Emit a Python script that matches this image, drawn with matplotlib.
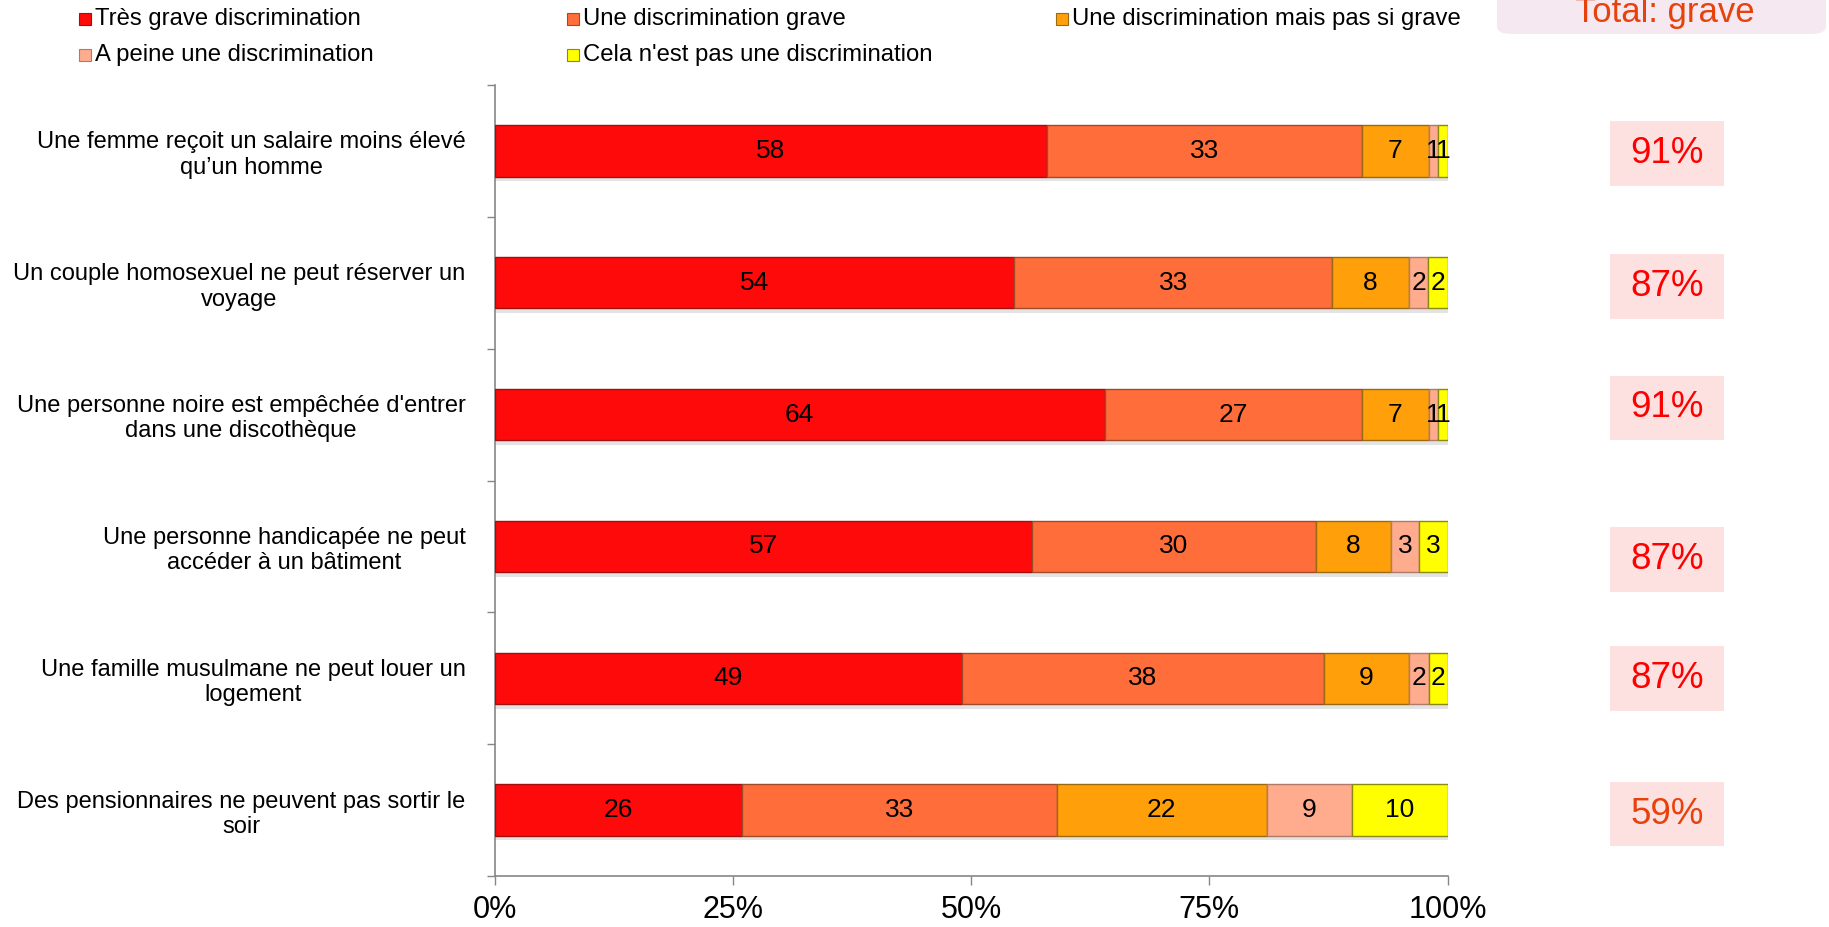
import matplotlib
matplotlib.use("Agg")
import matplotlib.pyplot as plt
import matplotlib.transforms as mtransforms
from matplotlib.patches import Rectangle, FancyBboxPatch
import numpy as np

plt.rcParams['font.family'] = ['Liberation Sans', 'DejaVu Sans']

# donnees
situations = [
    "Une femme reçoit un salaire moins élevé\nqu’un homme",
    "Un couple homosexuel ne peut réserver un\nvoyage",
    "Une personne noire est empêchée d'entrer\ndans une discothèque",
    "Une personne handicapée ne peut\naccéder à un bâtiment",
    "Une famille musulmane ne peut louer un\nlogement",
    "Des pensionnaires ne peuvent pas sortir le\nsoir",
]
tres_grave = [58, 54, 64, 57, 49, 26]
grave = [33, 33, 27, 30, 38, 33]
pas_si_grave = [7, 8, 7, 8, 9, 22]
a_peine = [1, 2, 1, 3, 2, 9]
pas_discrim = [1, 2, 1, 3, 2, 10]
total_grave = [91, 87, 91, 87, 87, 59]

series_labels = ["Très grave discrimination", "Une discrimination grave",
                 "Une discrimination mais pas si grave", "A peine une discrimination",
                 "Cela n'est pas une discrimination"]
colors = ["#ff0a0a", "#ff6e3a", "#ffa00a", "#ffab8e", "#ffff00"]
edges = ["#a01010", "#a04a2a", "#9a6a10", "#b07a6a", "#8a8a10"]
total_colors = ["#ff0000"] * 5 + ["#e8420c"]

W, H = 1829, 927
fig = plt.figure(figsize=(W / 100, H / 100), dpi=100)
ax = fig.add_axes([494.6 / W, 1 - 876 / H, (1447.6 - 494.6) / W, (876 - 85) / H])

values = np.array([tres_grave, grave, pas_si_grave, a_peine, pas_discrim], dtype=float)
shares = values / values.sum(axis=0) * 100
y = np.arange(len(situations))

# ombre legere sous les barres
ax.barh(y + 0.035, shares.sum(axis=0), height=0.39, color='#b0b0b0', alpha=0.35,
        edgecolor='none', zorder=2)

left = np.zeros(len(situations))
for k in range(len(series_labels)):
    ax.barh(y, shares[k], left=left, height=0.39, color=colors[k],
            edgecolor=edges[k], linewidth=1.0, zorder=3)
    for i in range(len(situations)):
        ax.text(left[i] + shares[k][i] / 2, y[i], str(int(values[k][i])),
                ha='center', va='center', fontsize=19, color='black', zorder=4)
    left += shares[k]

ax.set_xlim(0, 100)
ax.set_ylim(len(situations) - 0.5, -0.5)
ax.set_xticks([0, 25, 50, 75, 100])
ax.set_xticklabels(["0%", "25%", "50%", "75%", "100%"], fontsize=22)
ax.tick_params(axis='x', direction='out', length=6.5, width=1, color='#868686', pad=7)

ax.set_yticks(np.arange(-0.5, len(situations), 1.0))
ax.set_yticklabels([])
ax.set_yticks(y, minor=True)
ax.set_yticklabels(situations, minor=True, fontsize=17, multialignment='center')
ax.tick_params(axis='y', which='major', direction='out', length=6, width=1, color='#868686')
ax.tick_params(axis='y', which='minor', length=0, pad=21)

for s in ['top', 'right']:
    ax.spines[s].set_visible(False)
for s in ['left', 'bottom']:
    ax.spines[s].set_color('#868686')
    ax.spines[s].set_linewidth(1.2)

# encadres "Total: grave"
box_dy = [0.02, 0.03, -0.05, 0.1, 0.0, 0.03]
blend = mtransforms.blended_transform_factory(fig.transFigure, ax.transData)
for i, t in enumerate(total_grave):
    yc = y[i] + box_dy[i]
    ax.add_patch(Rectangle((1610 / W, yc - 0.245), 114 / W, 0.49, transform=blend,
                           facecolor='#fde0e0', edgecolor='none', clip_on=False))
    ax.text(1667 / W, yc, f"{t}%", transform=blend, ha='center', va='center',
            fontsize=26.5, color=total_colors[i])

fig.patches.append(FancyBboxPatch((1497 / W, 1 - 34 / H), 329 / W, 60 / H,
                                  boxstyle="round,pad=0,rounding_size=0.008",
                                  transform=fig.transFigure, facecolor='#f6e8f0',
                                  edgecolor='none'))
fig.text(1665 / W, 1 - 22 / H, "Total: grave", ha='center', va='baseline',
         fontsize=25, color='#e8420c')

# legende
leg_pos = [(79, 18.7), (567, 18.7), (1056, 18.7), (79, 55), (567, 55)]
for (px, py), lab, c, e in zip(leg_pos, series_labels, colors, edges):
    fig.patches.append(Rectangle((px / W, 1 - (py + 6) / H), 12 / W, 12 / H,
                                 transform=fig.transFigure, facecolor=c,
                                 edgecolor=e, linewidth=0.8))
    fig.text((px + 16) / W, 1 - py / H, lab, ha='left', va='center', fontsize=17.2)

fig.savefig("out.png", dpi=100)
